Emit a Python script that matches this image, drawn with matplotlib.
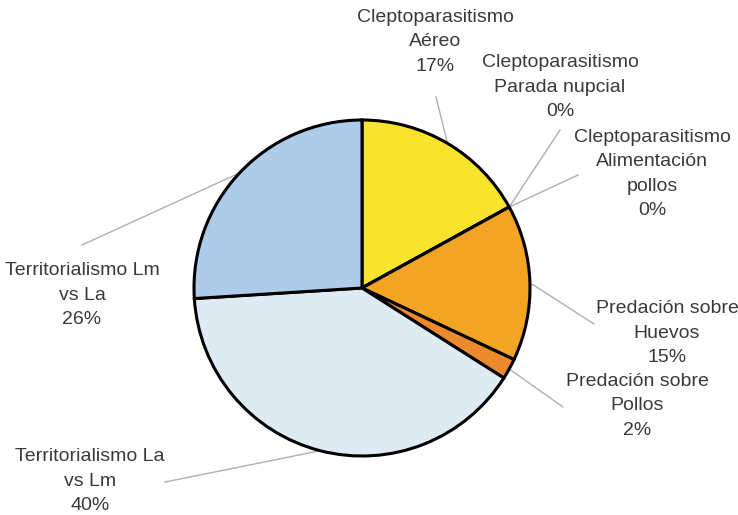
import numpy as np
import matplotlib.pyplot as plt

plt.rcParams["font.family"] = ["Liberation Sans", "DejaVu Sans"]

labels = [
    "Cleptoparasitismo\nAéreo",
    "Cleptoparasitismo\nParada nupcial",
    "Cleptoparasitismo\nAlimentación\npollos",
    "Predación sobre\nHuevos",
    "Predación sobre\nPollos",
    "Territorialismo La\nvs Lm",
    "Territorialismo Lm\nvs La",
]
values = [17, 0, 0, 15, 2, 40, 26]
colors = ["#f8e42c", "#f8e42c", "#f2a425", "#f2a425", "#ec8a2c", "#dfebf3", "#afcbea"]

# label text centre and leader end, in pixel coords (y from top)
label_pos = [(435, 42), (560, 87), (652, 174), (667, 333), (637, 406), (90, 481), (82, 295)]
leader_end = [(436, 97), (560, 130), (578, 175), (594, 324), (563, 407), (165, 482), (82, 245)]

W, H = 738, 515
CX, CY, R = 362, 288, 168

fig = plt.figure(figsize=(W / 100, H / 100), dpi=100)
ax = fig.add_axes([0, 0, 1, 1])

wedges, _ = ax.pie(values, colors=colors, startangle=90, counterclock=False,
                   center=(CX, H - CY), radius=R,
                   wedgeprops=dict(edgecolor="black", linewidth=2.2))
ax.set_xlim(0, W)
ax.set_ylim(0, H)
ax.set_aspect("equal")
ax.axis("off")

total = sum(values)
for w, lab, v, (tx, ty), (ex, ey) in zip(wedges, labels, values, label_pos, leader_end):
    mid = np.deg2rad((w.theta1 + w.theta2) / 2)
    sx = CX + R * np.cos(mid)
    sy = H - CY + R * np.sin(mid)
    ax.plot([sx, ex], [sy, H - ey], color="#b0b0b0", lw=1.0, zorder=0)
    ax.text(tx, H - ty, f"{lab}\n{v / total:.0%}", ha="center", va="center",
            fontsize=14, color="#3a3a3a", linespacing=1.55)

fig.savefig("out.png", dpi=100)
